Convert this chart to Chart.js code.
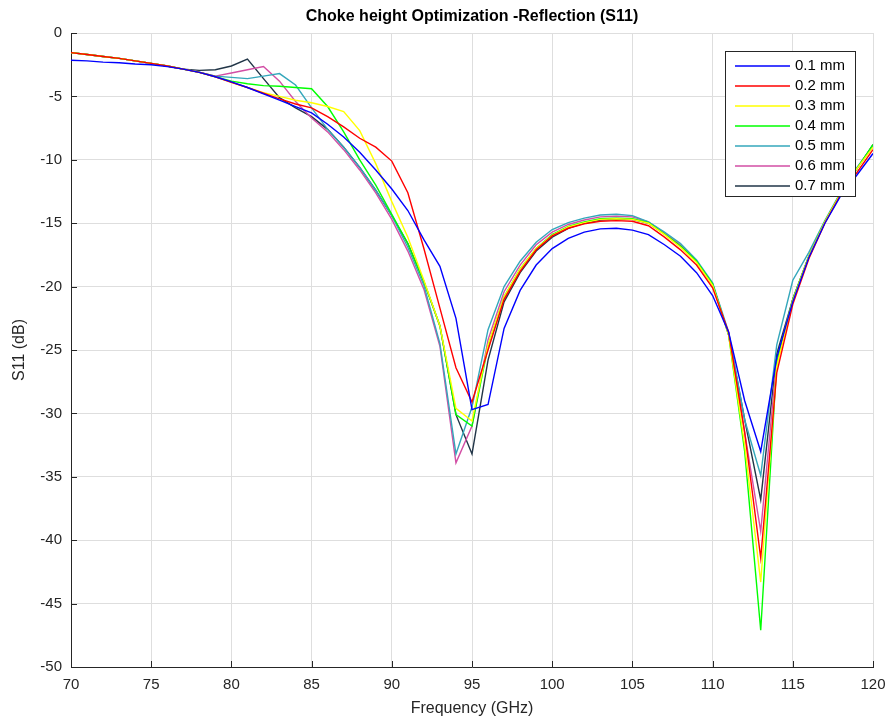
<!DOCTYPE html>
<html>
<head>
<meta charset="utf-8">
<title>Choke height Optimization -Reflection (S11)</title>
<script src="https://cdn.jsdelivr.net/npm/chart.js@4.4.1/dist/chart.umd.min.js"></script>
<style>
    html, body { margin: 0; padding: 0; background: #fff; }
    #wrap { width: 889px; height: 726px; }
</style>
</head>
<body>
<div id="wrap"><canvas id="s11Chart" width="889" height="726"></canvas></div>
<script>
// --- DATA ---
const freqs = [];
for (let f = 70; f <= 120; f++) freqs.push(f);

const xTicks = [70, 75, 80, 85, 90, 95, 100, 105, 110, 115, 120];
const yTicks = [0, -5, -10, -15, -20, -25, -30, -35, -40, -45, -50];

const seriesLabels = ['0.1 mm', '0.2 mm', '0.3 mm', '0.4 mm', '0.5 mm', '0.6 mm', '0.7 mm'];
const seriesColors = ['#0000ff', '#ff0000', '#ffff00', '#00ff00', '#34a7bb', '#d24ea5', '#213547'];

const s11_01 = [
    -2.15, -2.2, -2.3, -2.35, -2.45, -2.5, -2.65, -2.85, -3.1, -3.45,
    -3.85, -4.3, -4.8, -5.3, -5.8, -6.3, -7.2, -8.2, -9.4, -10.8,
    -12.3, -14.0, -16.3, -18.4, -22.5, -29.7, -29.3, -23.3, -20.3, -18.3,
    -17.0, -16.2, -15.7, -15.45, -15.4, -15.55, -15.9, -16.7, -17.6, -18.9,
    -20.7, -23.6, -29.0, -33.0, -25.6, -21.2, -17.7, -15.0, -12.8, -11.2, -9.5
];
const s11_02 = [
    -1.55, -1.7, -1.85, -2.0, -2.2, -2.4, -2.6, -2.85, -3.1, -3.45,
    -3.9, -4.3, -4.75, -5.2, -5.6, -5.9, -6.6, -7.4, -8.3, -9.0,
    -10.1, -12.6, -17.0, -21.7, -26.4, -29.1, -25.0, -21.0, -18.8, -17.1,
    -16.0, -15.4, -15.05, -14.85, -14.8, -14.85, -15.2, -16.1, -17.1, -18.3,
    -20.1, -23.6, -31.5, -41.4, -26.8, -21.4, -17.8, -15.0, -12.7, -11.0, -9.2
];
const s11_03 = [
    -1.55, -1.7, -1.85, -2.0, -2.2, -2.4, -2.6, -2.85, -3.1, -3.45,
    -3.9, -4.3, -4.7, -5.0, -5.3, -5.5, -5.8, -6.2, -7.7, -10.3,
    -13.3, -16.1, -19.5, -23.1, -29.6, -30.6, -24.6, -20.8, -18.6, -17.0,
    -15.95, -15.3, -14.95, -14.7, -14.65, -14.7, -15.0, -15.9, -16.9, -18.1,
    -19.9, -23.8, -32.5, -43.3, -26.3, -21.1, -17.6, -14.9, -12.6, -10.7, -9.0
];
const s11_04 = [
    -1.55, -1.7, -1.85, -2.0, -2.2, -2.4, -2.6, -2.85, -3.1, -3.45,
    -3.8, -4.0, -4.15, -4.2, -4.3, -4.4, -5.8, -7.8, -10.0, -12.0,
    -14.3, -16.6, -19.6, -23.1, -30.1, -31.0, -24.7, -20.8, -18.6, -17.0,
    -15.9, -15.25, -14.9, -14.65, -14.6, -14.65, -14.95, -15.85, -16.8, -18.0,
    -19.8, -23.8, -33.0, -47.1, -26.0, -21.0, -17.6, -14.9, -12.6, -10.7, -8.8
];
const s11_05 = [
    -1.55, -1.7, -1.85, -2.0, -2.2, -2.4, -2.6, -2.85, -3.1, -3.4,
    -3.5, -3.6, -3.4, -3.2, -4.1, -5.9, -7.6, -9.0, -10.6, -12.4,
    -14.4, -16.9, -19.9, -24.5, -33.2, -29.5, -23.4, -20.0, -18.0, -16.5,
    -15.5, -14.96, -14.6, -14.35, -14.3, -14.4, -14.9, -15.7, -16.6, -17.9,
    -19.7, -23.6, -30.5, -34.9, -24.6, -19.5, -17.3, -14.8, -12.5, -10.6, -8.9
];
const s11_06 = [
    -1.55, -1.7, -1.85, -2.0, -2.2, -2.4, -2.6, -2.85, -3.1, -3.4,
    -3.15, -2.9, -2.65, -3.8, -5.4, -6.7, -7.8, -9.2, -10.8, -12.6,
    -14.7, -17.2, -20.2, -24.7, -33.9, -31.0, -24.2, -20.4, -18.3, -16.7,
    -15.7, -15.1, -14.75, -14.5, -14.45, -14.5, -14.9, -15.8, -16.7, -18.0,
    -19.8, -23.8, -31.5, -39.3, -25.8, -21.0, -17.6, -14.9, -12.6, -10.7, -8.9
];
const s11_07 = [
    -1.55, -1.7, -1.85, -2.0, -2.2, -2.4, -2.6, -2.85, -2.95, -2.9,
    -2.6, -2.05, -3.6, -5.1, -5.9, -6.6, -7.6, -9.0, -10.6, -12.4,
    -14.4, -16.6, -19.6, -23.1, -30.1, -33.2, -25.8, -21.2, -18.9, -17.2,
    -16.1, -15.4, -15.0, -14.75, -14.7, -14.7, -15.0, -15.85, -16.8, -18.0,
    -19.8, -23.8, -30.5, -36.8, -25.3, -21.0, -17.6, -14.9, -12.6, -10.7, -8.8
];

const seriesValues = [s11_01, s11_02, s11_03, s11_04, s11_05, s11_06, s11_07];

// --- PLUGINS ---
const FONT = '"Liberation Sans", Arial, sans-serif';

// title above the axes
const titlePlugin = {
    id: 'plotTitle',
    afterDraw(chart) {
        const { ctx, chartArea } = chart;
        ctx.save();
        ctx.font = `bold 16px ${FONT}`;
        ctx.fillStyle = '#000';
        ctx.textAlign = 'center';
        ctx.textBaseline = 'middle';
        ctx.fillText('Choke height Optimization -Reflection (S11)', (chartArea.left + chartArea.right) / 2, 17);
        ctx.restore();
    }
};

// MATLAB style ticks pointing into the plot
const innerTicks = {
    id: 'innerTicks',
    afterDraw(chart) {
        const { ctx, chartArea, scales } = chart;
        ctx.save();
        ctx.strokeStyle = '#262626';
        ctx.lineWidth = 1;
        ctx.beginPath();
        xTicks.forEach(v => {
            const x = Math.round(scales.x.getPixelForValue(v)) + 0.5;
            ctx.moveTo(x, chartArea.bottom);
            ctx.lineTo(x, chartArea.bottom - 6);
        });
        yTicks.forEach(v => {
            const y = Math.round(scales.y.getPixelForValue(v)) + 0.5;
            ctx.moveTo(chartArea.left, y);
            ctx.lineTo(chartArea.left + 6, y);
        });
        ctx.stroke();
        ctx.restore();
    }
};

// legend box in the upper right corner
const boxLegend = {
    id: 'boxLegend',
    afterDatasetsDraw(chart) {
        const { ctx } = chart;
        const bx = 725, by = 51, bw = 130, bh = 145;
        ctx.save();
        ctx.fillStyle = '#fff';
        ctx.fillRect(bx, by, bw, bh);
        ctx.strokeStyle = '#262626';
        ctx.lineWidth = 1;
        ctx.strokeRect(bx + 0.5, by + 0.5, bw, bh);
        ctx.font = `15px ${FONT}`;
        ctx.textBaseline = 'middle';
        ctx.textAlign = 'left';
        chart.data.datasets.forEach((ds, i) => {
            const y = by + 15 + i * 20;
            ctx.strokeStyle = ds.borderColor;
            ctx.lineWidth = 1.5;
            ctx.beginPath();
            ctx.moveTo(bx + 10, y);
            ctx.lineTo(bx + 65, y);
            ctx.stroke();
            ctx.fillStyle = '#000';
            ctx.fillText(ds.label, bx + 70, y);
        });
        ctx.restore();
    }
};

// --- CHART ---
const datasets = seriesLabels.map((label, i) => ({
    label: label,
    data: freqs.map((f, j) => ({ x: f, y: seriesValues[i][j] })),
    borderColor: seriesColors[i],
    backgroundColor: seriesColors[i],
    borderWidth: 1.4,
    pointRadius: 0,
    tension: 0,
    fill: false,
}));

const gridColor = '#dedede';

new Chart(document.getElementById('s11Chart').getContext('2d'), {
    type: 'line',
    data: { datasets },
    options: {
        responsive: false,
        animation: false,
        layout: { padding: { top: 33, right: 16, left: 0, bottom: 0 } },
        plugins: {
            legend: { display: false },
            title: { display: false },
            tooltip: { enabled: false },
        },
        scales: {
            x: {
                type: 'linear',
                min: 70,
                max: 120,
                afterBuildTicks: s => { s.ticks = xTicks.map(v => ({ value: v })); },
                afterFit: s => { s.height = 59; s.paddingLeft = 0; s.paddingRight = 0; },
                grid: { color: gridColor, drawTicks: false },
                border: { color: '#262626', width: 1 },
                ticks: { color: '#262626', font: { family: FONT, size: 15 }, padding: 9, maxRotation: 0 },
                title: { display: true, text: 'Frequency (GHz)', color: '#262626', font: { family: FONT, size: 16 }, padding: { top: 0, bottom: 8 } },
            },
            y: {
                type: 'linear',
                min: -50,
                max: 0,
                afterBuildTicks: s => { s.ticks = yTicks.map(v => ({ value: v })); },
                afterFit: s => { s.width = 71; s.paddingTop = 0; s.paddingBottom = 0; },
                grid: { color: gridColor, drawTicks: false },
                border: { color: '#262626', width: 1 },
                ticks: { color: '#262626', font: { family: FONT, size: 15 }, padding: 9 },
                title: { display: true, text: 'S11 (dB)', color: '#262626', font: { family: FONT, size: 16 }, padding: { top: 10, bottom: 0 } },
            },
        },
    },
    plugins: [titlePlugin, innerTicks, boxLegend],
});
</script>
</body>
</html>
